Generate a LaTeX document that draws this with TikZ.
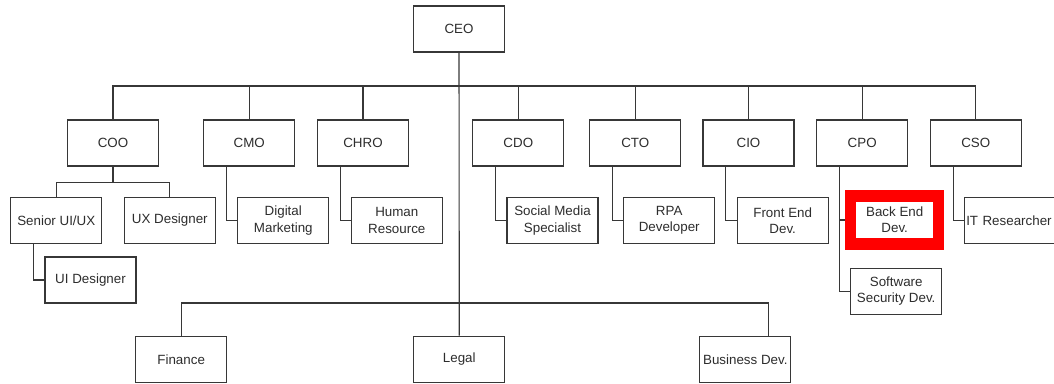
\documentclass[tikz,border=0pt]{standalone}
\usepackage{fontspec}
\setmainfont{Liberation Sans}
\usepackage{tikz}
\usetikzlibrary{positioning}
\definecolor{linegray}{RGB}{55,55,55}
\definecolor{textgray}{RGB}{45,45,45}
\tikzset{
	orgnode/.style={rectangle, draw=linegray, thick, fill=white, text=textgray, minimum width=2.275cm, minimum height=1.15cm, inner sep=1pt, align=center, font=\fontsize{9.5}{11.5}\selectfont},
	hilitenode/.style={orgnode, draw=red, line width=8pt, minimum width=2.2cm, minimum height=1.2cm},
	orgline/.style={draw=linegray, thick}
}
\begin{document}
\begin{tikzpicture}[x=0.025cm, y=0.025cm]
		\useasboundingbox (0,0) rectangle (1054,-383);
		
		\node[orgnode] at (459,-29) (ceo)     {CEO};
		
		\node[orgnode] at (113,-143) (coo)     {COO};
		\node[orgnode] at (249.3,-143) (cmo)     {CMO};
		\node[orgnode] at (363,-143) (chro)    {CHRO};
		\node[orgnode] at (518.3,-143) (cdo)     {CDO};
		\node[orgnode] at (635.3,-143) (cto)     {CTO};
		\node[orgnode] at (748.5,-143) (cio)     {CIO};
		\node[orgnode] at (862.2,-143) (cpo)     {CPO};
		\node[orgnode] at (975.8,-143) (cso)     {CSO};
		
		\node[orgnode] at (56.3,-220.5) (senior)    {Senior UI/UX};
		\node[orgnode] at (169.8,-220.5) (uxdes)     {UX Designer};
		\node[orgnode] at (90.5,-280) (uides)     {UI Designer};
		\node[orgnode] at (283.3,-220.5) (digital)   {Digital\\Marketing};
		\node[orgnode] at (396.8,-220.5) (human)     {Human\\Resource};
		\node[orgnode] at (552.5,-220.5) (social)    {Social Media\\Specialist};
		\node[orgnode] at (669.2,-220.5) (rpa)       {RPA\\Developer};
		\node[orgnode] at (782.7,-220.5) (frontend)  {Front End\\Dev.};
		\node[hilitenode] at (894.7,-220) (backend)  {Back End\\Dev.};
		\node[orgnode] at (896.2,-291.2) (swsec)     {Software\\Security Dev.};
		\node[orgnode, anchor=west, text width=2.3cm, align=left] at (964.3,-220.5) (itres)    {IT Researcher};
		
		\node[orgnode] at (181.2,-359.3) (finance)   {Finance};
		\node[orgnode] at (459.3,-359.3) (legal)     {Legal};
		\node[orgnode] at (745.3,-359.3) (bizdev)    {Business Dev.};
		
		%Lines
		\coordinate (topbus) at (459,-86);
		\coordinate (lowbus) at (459,-303);
		\draw[orgline] (ceo) -- (legal);
		\foreach \chief in {coo,cmo,chro,cdo,cto,cio,cpo,cso}
			\draw[orgline] (topbus) -| (\chief);
		\draw[orgline] (lowbus) -| (finance);
		\draw[orgline] (lowbus) -| ([xshift=0.575cm]bizdev.north);
		
		\draw[orgline] (coo.south) -- ++(0,-15.7) coordinate (coobus);
		\draw[orgline] (coobus) -| (senior);
		\draw[orgline] (coobus) -| (uxdes);
		\draw[orgline] ([xshift=-0.567cm]senior.south) |- (uides);
		
		\draw[orgline] ([xshift=-0.567cm]cmo.south) |- (digital);
		\draw[orgline] ([xshift=-0.567cm]chro.south) |- (human);
		\draw[orgline] ([xshift=-0.567cm]cdo.south) |- (social);
		\draw[orgline] ([xshift=-0.567cm]cto.south) |- (rpa);
		\draw[orgline] ([xshift=-0.567cm]cio.south) |- (frontend);
		\draw[orgline] ([xshift=-0.567cm]cpo.south) |- (backend);
		\draw[orgline] ([xshift=-0.567cm]cpo.south) |- (swsec);
		\draw[orgline] ([xshift=-0.567cm]cso.south) |- (itres);
		
\end{tikzpicture}
\end{document}
